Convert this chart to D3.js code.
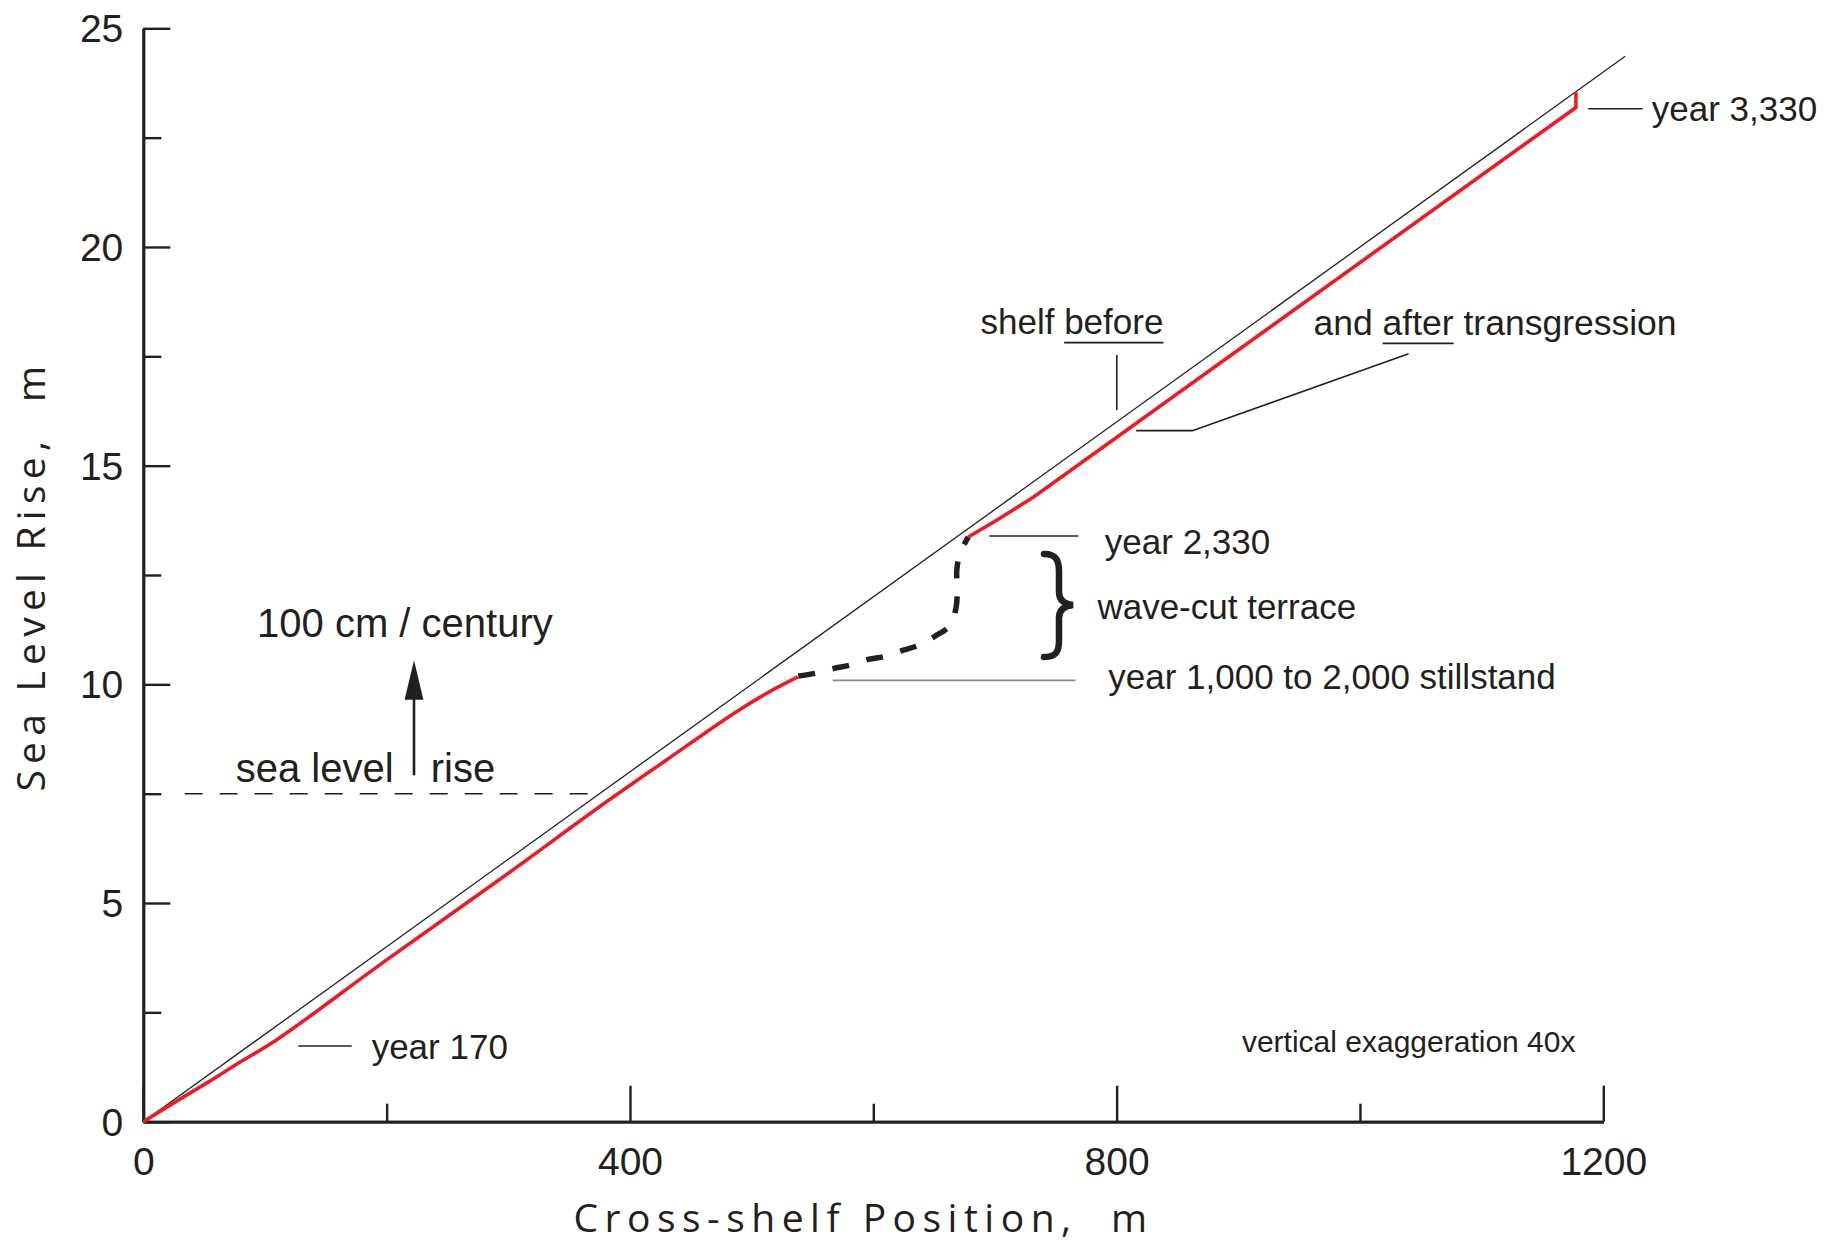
<!DOCTYPE html>
<html>
<head>
<meta charset="utf-8">
<script src="https://cdn.jsdelivr.net/npm/d3@7/dist/d3.min.js"></script>
<style>
  html, body { margin: 0; padding: 0; background: #fff; }
  svg { display: block; }
</style>
</head>
<body>
<svg id="chart" width="1839" height="1243"></svg>
<script>
// ---------------- DATA ----------------
const xMajorTicks = [0, 400, 800, 1200];
const xMinorTicks = [200, 600, 1000];
const yMajorTicks = [0, 5, 10, 15, 20, 25];
const yMinorTicks = [2.5, 7.5, 12.5, 17.5, 22.5];

// shelf profile before transgression (thin black)
const shelfBeforeX = [0, 1218];
const shelfBeforeY = [0, 24.36];

// shelf profile after transgression (red), lower part up to stillstand
const afterLowX = [0, 25, 53, 80, 110, 200, 300, 375, 430, 485, 512, 538];
const afterLowY = [0, 0.43, 0.90, 1.37, 1.88, 3.70, 5.68, 7.20, 8.27, 9.33, 9.79, 10.17];

// wave-cut terrace (dashed black)
const terraceX = [538.3, 552.1, 567.1, 580.8, 595.9, 609.6, 624.6, 637.0, 650.7, 663.0, 668.0, 669.0, 668.6, 671.3, 678.1];
const terraceY = [10.19, 10.25, 10.36, 10.44, 10.57, 10.64, 10.78, 10.89, 11.10, 11.35, 11.75, 12.19, 12.61, 12.99, 13.37];

// shelf profile after transgression (red), upper part
const afterHighX = [678.1, 701.4, 731.5, 1177.5, 1177.5];
const afterHighY = [13.37, 13.75, 14.28, 23.19, 23.54];

// initial sea level (dashed)
const seaLevelX = [34, 375];
const seaLevelY = [7.5, 7.5];

// ---------------- SETUP ----------------
const INK = "#231f20";
const RED = "#ec1c24";
const LABEL_FONT = "'Liberation Sans', Arial, Helvetica, sans-serif";
const TITLE_FONT = "'Open Sans', 'Noto Sans', sans-serif";

const svg = d3.select("#chart");
svg.append("rect").attr("width", 1839).attr("height", 1243).attr("fill", "#fff");

const x = d3.scaleLinear().domain([0, 1200]).range([143.3, 1603.3]);
const y = d3.scaleLinear().domain([0, 25]).range([1121.7, 28.3]);

const zip = (xs, ys) => xs.map((v, i) => [v, ys[i]]);
const line = d3.line().x(d => x(d[0])).y(d => y(d[1]));

// ---------------- AXES ----------------
function styleAxis(g) {
  g.selectAll("path.domain").attr("stroke", INK).attr("stroke-width", 2.8);
  g.selectAll(".tick line").attr("stroke", INK).attr("stroke-width", 2.4);
  g.selectAll(".tick text").attr("fill", INK).style("font-family", LABEL_FONT).style("font-size", "39px");
}

// y minor ticks
svg.append("g").attr("transform", `translate(${x(0)},0)`)
  .call(d3.axisLeft(y).tickValues(yMinorTicks).tickSize(-18).tickSizeOuter(0).tickFormat(""))
  .call(styleAxis);
// y major
const gy = svg.append("g").attr("transform", `translate(${x(0)},0)`)
  .call(d3.axisLeft(y).tickValues(yMajorTicks).tickSize(-27).tickSizeOuter(0).tickPadding(20).tickFormat(d3.format("d")))
  .call(styleAxis);
gy.selectAll(".tick text").attr("dy", "0.35em");

// x minor
svg.append("g").attr("transform", `translate(0,${y(0)})`)
  .call(d3.axisBottom(x).tickValues(xMinorTicks).tickSize(-18).tickSizeOuter(0).tickFormat(""))
  .call(styleAxis);
// x major
svg.append("g").attr("transform", `translate(0,${y(0)})`)
  .call(d3.axisBottom(x).tickValues(xMajorTicks).tickSize(-36).tickSizeOuter(0).tickPadding(26).tickFormat(d3.format("d")))
  .call(styleAxis);

// axis titles
svg.append("text")
  .attr("x", 573.5).attr("y", 1232)
  .attr("textLength", 573.5).attr("lengthAdjust", "spacing")
  .style("white-space", "pre")
  .style("font-family", TITLE_FONT).style("font-size", "39px").attr("fill", INK)
  .text("Cross-shelf Position,  m");

svg.append("text")
  .attr("transform", "translate(45,791.6) rotate(-90)")
  .attr("x", 0).attr("y", 0)
  .attr("textLength", 425.7).attr("lengthAdjust", "spacing")
  .style("white-space", "pre")
  .style("font-family", TITLE_FONT).style("font-size", "39px").attr("fill", INK)
  .text("Sea Level Rise,  m");

// ---------------- MARKS ----------------
// initial sea level dashed line
svg.append("path").datum(zip(seaLevelX, seaLevelY))
  .attr("d", line).attr("fill", "none")
  .attr("stroke", INK).attr("stroke-width", 1.6).attr("stroke-dasharray", "18,17");

// shelf before
svg.append("path").datum(zip(shelfBeforeX, shelfBeforeY))
  .attr("d", line).attr("fill", "none")
  .attr("stroke", INK).attr("stroke-width", 1.3);

// red after, lower
svg.append("path").datum(zip(afterLowX, afterLowY))
  .attr("d", line.curve(d3.curveCatmullRom)).attr("fill", "none")
  .attr("stroke", RED).attr("stroke-width", 3.6).attr("stroke-linejoin", "round");

// terrace dashed
svg.append("path").datum(zip(terraceX, terraceY))
  .attr("d", line.curve(d3.curveCatmullRom)).attr("fill", "none")
  .attr("stroke", INK).attr("stroke-width", 5.5).attr("stroke-dasharray", "17,18");

// red after, upper
svg.append("path").datum(zip(afterHighX, afterHighY))
  .attr("d", line.curve(d3.curveLinear)).attr("fill", "none")
  .attr("stroke", RED).attr("stroke-width", 3.6).attr("stroke-linejoin", "miter");

// ---------------- ANNOTATIONS ----------------
function label(txt, xv, yv, size, extra) {
  const t = svg.append("text")
    .attr("x", x(xv)).attr("y", y(yv))
    .style("font-family", LABEL_FONT).style("font-size", size + "px").attr("fill", INK)
    .style("white-space", "pre")
    .text(txt);
  if (extra) extra(t);
  return t;
}
function seg(x1, y1, x2, y2, w, col) {
  svg.append("line").attr("x1", x(x1)).attr("y1", y(y1)).attr("x2", x(x2)).attr("y2", y(y2))
    .attr("stroke", col || INK).attr("stroke-width", w || 1.5);
}
function underline(textSel, from, to, offset) {
  const node = textSel.node();
  const a = node.getStartPositionOfChar(from);
  const b = node.getEndPositionOfChar(to);
  svg.append("line").attr("x1", a.x).attr("x2", b.x)
    .attr("y1", a.y + offset).attr("y2", a.y + offset)
    .attr("stroke", INK).attr("stroke-width", 1.6);
}

// year 3,330
seg(1187.6, 23.16, 1232.3, 23.16, 1.6);
label("year 3,330", 1239.8, 22.88, 35);

// shelf before / and after transgression
const tBefore = label("shelf before", 688.1, 18.02, 35);
underline(tBefore, 6, 11, 9);
svg.append("line").attr("x1", 1116.8).attr("x2", 1116.8).attr("y1", 355).attr("y2", 410)
  .attr("stroke", INK).attr("stroke-width", 1.6);

const tAfter = label("and after transgression", 961.8, 17.98, 35.5);
underline(tAfter, 4, 8, 8);
svg.append("polyline")
  .attr("points", [[x(1040.0), y(17.56)], [x(862.3), y(15.80)], [x(816.0), y(15.80)]].map(p => p.join(",")).join(" "))
  .attr("fill", "none").attr("stroke", INK).attr("stroke-width", 1.6);

// year 2,330
seg(695.3, 13.39, 768.5, 13.39, 1.4);
label("year 2,330", 790.3, 12.97, 35);

// brace
svg.append("path")
  .attr("d", "M1044,554 C1056,554 1059,560 1059,572 L1059,592 C1059,600 1064,604 1073,605 C1064,606 1059,610 1059,618 L1059,640 C1059,652 1056,657 1044,657")
  .attr("fill", "none").attr("stroke", INK).attr("stroke-width", 6.5).attr("stroke-linecap", "round");
label("wave-cut terrace", 784.2, 11.50, 35);

// stillstand
seg(566.6, 10.09, 766.2, 10.09, 1.6, "#8a8a8a");
label("year 1,000 to 2,000 stillstand", 793.1, 9.89, 35);

// year 170
seg(127.4, 1.73, 171.3, 1.73, 1.6);
label("year 170", 187.7, 1.43, 35);

// 100 cm / century + arrow
label("100 cm / century", 93.5, 11.08, 40);
seg(222.5, 7.92, 222.5, 9.70, 2.6);
svg.append("path")
  .attr("d", `M${x(222.5)},${y(10.55)} L${x(222.5) - 9.4},${y(9.65)} L${x(222.5) + 9.4},${y(9.65)} Z`)
  .attr("fill", INK);
label("sea level", 75.9, 7.77, 40);
label("rise", 236.3, 7.77, 40);

// vertical exaggeration
label("vertical exaggeration 40x", 903, 1.59, 30);
</script>
</body>
</html>
